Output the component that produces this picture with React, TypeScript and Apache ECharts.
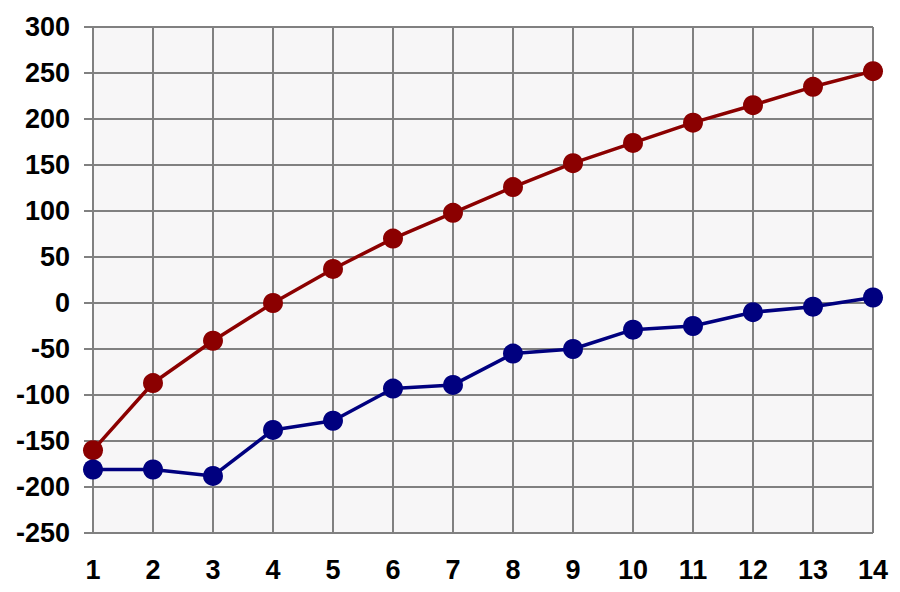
import React, { useEffect, useRef } from "react";
import * as echarts from "echarts";

const xValues = [1, 2, 3, 4, 5, 6, 7, 8, 9, 10, 11, 12, 13, 14];
const redValues = [-160, -87, -41, 0, 37, 70, 98, 126, 152, 174, 196, 215, 235, 252];
const blueValues = [-181, -181, -188, -138, -128, -93, -89, -55, -50, -29, -25, -10, -4, 6];

export default function App() {
  const ref = useRef<HTMLDivElement>(null);
  useEffect(() => {
    if (!ref.current) return;
    const chart = echarts.init(ref.current, null, { renderer: "svg" });
    const labelStyle = {
      color: "#000",
      fontWeight: "bold" as const,
      fontSize: 27,
      fontFamily: "Liberation Sans, Arial, sans-serif",
    };
    const gridLine = { lineStyle: { color: "#808080", width: 2 } };
    chart.setOption({
      animation: false,
      backgroundColor: "#ffffff",
      grid: {
        left: 93,
        right: 27,
        top: 27,
        bottom: 59,
        show: true,
        backgroundColor: "#f7f6f7",
        borderWidth: 0,
      },
      xAxis: {
        type: "value",
        min: 1,
        max: 14,
        interval: 1,
        axisLine: { show: true, lineStyle: { color: "#808080", width: 2 } },
        axisTick: { show: true, length: 8, lineStyle: { color: "#808080", width: 2 } },
        splitLine: { show: true, ...gridLine },
        axisLabel: { ...labelStyle, margin: 23 },
      },
      yAxis: {
        type: "value",
        min: -250,
        max: 300,
        interval: 50,
        axisLine: { show: true, lineStyle: { color: "#808080", width: 2 } },
        axisTick: { show: true, length: 9, lineStyle: { color: "#808080", width: 2 } },
        splitLine: { show: true, ...gridLine },
        axisLabel: { ...labelStyle, margin: 23 },
      },
      series: [
        {
          type: "line",
          data: xValues.map((x, i) => [x, redValues[i]]),
          symbol: "circle",
          symbolSize: 20,
          lineStyle: { color: "#8b0000", width: 3.5 },
          itemStyle: { color: "#8b0000" },
        },
        {
          type: "line",
          data: xValues.map((x, i) => [x, blueValues[i]]),
          symbol: "circle",
          symbolSize: 20,
          lineStyle: { color: "#00007f", width: 3.5 },
          itemStyle: { color: "#00007f" },
        },
      ],
    });
    return () => chart.dispose();
  }, []);
  return <div ref={ref} style={{ width: 900, height: 592, position: "absolute", left: 0, top: 0 }} />;
}
